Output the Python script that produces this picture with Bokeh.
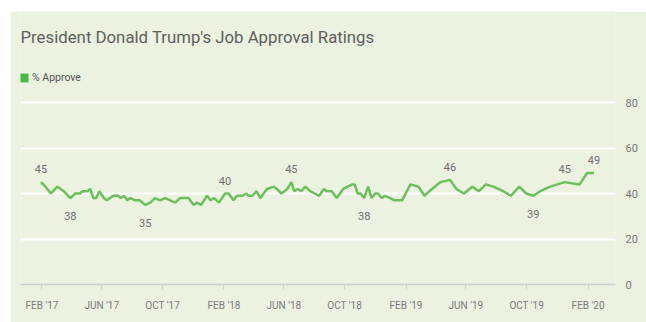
import pandas as pd
from bokeh.plotting import figure
from bokeh.models import (ColumnDataSource, FixedTicker, Label, Legend, LegendItem, Range1d)
from bokeh.embed import file_html
from bokeh.resources import INLINE
from bokeh.core.properties import value

# ---- data ----
dates = [
    "2017-01-30", "2017-02-08", "2017-02-19", "2017-03-04", "2017-03-17", "2017-03-30",
    "2017-04-09", "2017-04-18", "2017-04-23", "2017-05-03", "2017-05-09", "2017-05-15",
    "2017-05-21", "2017-05-27", "2017-06-05", "2017-06-11", "2017-06-24", "2017-07-04",
    "2017-07-09", "2017-07-16", "2017-07-22", "2017-07-28", "2017-08-07", "2017-08-16",
    "2017-08-27", "2017-09-06", "2017-09-16", "2017-09-26", "2017-10-06", "2017-10-16",
    "2017-10-26", "2017-11-05", "2017-11-22", "2017-12-02", "2017-12-09", "2017-12-17",
    "2017-12-29", "2018-01-05", "2018-01-12", "2018-01-22", "2018-02-03", "2018-02-10",
    "2018-02-20", "2018-02-27", "2018-03-09", "2018-03-18", "2018-03-22", "2018-03-30",
    "2018-04-07", "2018-04-15", "2018-04-28", "2018-05-12", "2018-05-18", "2018-05-27",
    "2018-06-08", "2018-06-16", "2018-06-22", "2018-06-29", "2018-07-06", "2018-07-14",
    "2018-07-24", "2018-08-02", "2018-08-11", "2018-08-20", "2018-08-26", "2018-09-05",
    "2018-09-15", "2018-09-28", "2018-10-16", "2018-10-21", "2018-10-27", "2018-11-02",
    "2018-11-09", "2018-11-17", "2018-11-24", "2018-12-01", "2018-12-07", "2018-12-14",
    "2018-12-21", "2018-12-31", "2019-01-09", "2019-01-24", "2019-02-10", "2019-02-26",
    "2019-03-10", "2019-03-25", "2019-04-11", "2019-04-30", "2019-05-13", "2019-05-28",
    "2019-06-14", "2019-06-27", "2019-07-11", "2019-07-26", "2019-08-15", "2019-08-30",
    "2019-09-16", "2019-09-30", "2019-10-14", "2019-10-28", "2019-11-17", "2019-12-16",
    "2020-01-15", "2020-01-30", "2020-02-13",
]
approve = [
    45, 43, 40, 43, 41, 38,
    40, 40, 41, 41, 42, 38,
    38, 41, 38, 37, 39, 39,
    38, 39, 37, 38, 37, 37,
    35, 36, 38, 37, 38, 37,
    36, 38, 38, 35, 36, 35,
    39, 37, 38, 36, 40, 40,
    37, 39, 39, 40, 39, 39,
    41, 38, 42, 43, 42, 40,
    42, 45, 41, 42, 41, 43,
    41, 40, 39, 42, 41, 41,
    38, 42, 44, 44, 40, 40,
    38, 43, 38, 40, 40, 38,
    39, 38, 37, 37, 44, 43,
    39, 42, 45, 46, 42, 40,
    43, 41, 44, 43, 41, 39,
    43, 40, 39, 41, 43, 45,
    44, 49, 49,
]
label_index = [0, 5, 24, 40, 55, 72, 87, 98, 101, 104]
label_side = ["above", "below", "below", "above", "above", "below", "above", "below", "above", "above"]

tick_dates = ["2017-02-01", "2017-06-01", "2017-10-01", "2018-02-01", "2018-06-01",
              "2018-10-01", "2019-02-01", "2019-06-01", "2019-10-01", "2020-02-01"]
tick_labels = ["FEB '17", "JUN '17", "OCT '17", "FEB '18", "JUN '18",
               "OCT '18", "FEB '19", "JUN '19", "OCT '19", "FEB '20"]
y_ticks = [0, 20, 40, 60, 80]

series_name = "% Approve"
title_text = "President Donald Trump's Job Approval Ratings"

# ---- styling ----
BG = "#ebf2df"
GREEN = "#6cbf5c"
LEGEND_GREEN = "#4cb648"
FONT = "Roboto"

x = pd.to_datetime(dates)
src = ColumnDataSource(dict(x=x, y=approve))

lx = [x[i] for i in label_index]
ly = [approve[i] for i in label_index]
lt = [str(approve[i]) for i in label_index]
loff = [-13 if s == "above" else 18 for s in label_side]
lsrc = ColumnDataSource(dict(x=lx, y=ly, t=lt, off=loff))

# frame spans the full height above the x axis; extra headroom holds title + legend
p = figure(width=636, height=311, x_axis_type="datetime", y_axis_location="right",
           x_range=Range1d(pd.Timestamp("2016-12-20"), pd.Timestamp("2020-03-27")),
           y_range=Range1d(0, 120),
           output_backend="svg", toolbar_location=None,
           min_border_left=10, min_border_right=31, min_border_top=0, min_border_bottom=38,
           background_fill_color=BG, border_fill_color=BG, outline_line_color=None,
           margin=(11, 0, 0, 10))

# grid
p.xgrid.grid_line_color = None
p.ygrid.ticker = FixedTicker(ticks=[t for t in y_ticks if t > 0])
p.ygrid.grid_line_color = "white"
p.ygrid.grid_line_width = 2

# y axis (right)
p.yaxis.ticker = FixedTicker(ticks=y_ticks)
p.yaxis.axis_line_color = None
p.yaxis.major_tick_line_color = None
p.yaxis.minor_tick_line_color = None
p.yaxis.major_label_standoff = 4
p.yaxis.major_label_text_font = FONT
p.yaxis.major_label_text_font_size = "11px"
p.yaxis.major_label_text_color = "#777777"

# x axis
tick_ms = [int(pd.Timestamp(d).value // 10**6) for d in tick_dates]
p.xaxis.ticker = FixedTicker(ticks=tick_ms)
p.xaxis.major_label_overrides = {t: l for t, l in zip(tick_ms, tick_labels)}
p.xaxis.axis_line_color = "#cfcfcf"
p.xaxis.axis_line_width = 1.5
p.xaxis.major_tick_line_color = "#cfcfcf"
p.xaxis.major_tick_in = 0
p.xaxis.major_tick_out = 5
p.xaxis.minor_tick_line_color = None
p.xaxis.major_label_standoff = 10
p.xaxis.major_label_text_font = FONT
p.xaxis.major_label_text_font_size = "10px"
p.xaxis.major_label_text_color = "#7a7a7a"

# line
p.line("x", "y", source=src, color=GREEN, line_width=2.5)

# value labels
p.text("x", "y", text="t", source=lsrc, y_offset="off",
       text_align="center", text_baseline="middle",
       text_font=value(FONT), text_font_size="11px", text_color="#6e6e6e")

# title
p.add_layout(Label(x=0, y=248, x_units="screen", y_units="screen", text=title_text,
                   text_font=FONT, text_font_size="16.8px", text_color="#606060",
                   text_baseline="alphabetic"))

# legend (swatch renderer holds no visible data)
nan = float("nan")
dummy = p.quad(left=[nan], right=[nan], top=[nan], bottom=[nan],
               fill_color=LEGEND_GREEN, line_color=None)
legend = Legend(items=[LegendItem(label=series_name, renderers=[dummy])],
                location=(-1, 200), border_line_color=None, background_fill_alpha=0,
                padding=0, margin=0, glyph_width=10, glyph_height=11, label_height=11,
                label_standoff=3, label_text_font=FONT, label_text_font_size="10.5px",
                label_text_color="#555555")
p.add_layout(legend)

open("out.html", "w").write(file_html(p, INLINE))
